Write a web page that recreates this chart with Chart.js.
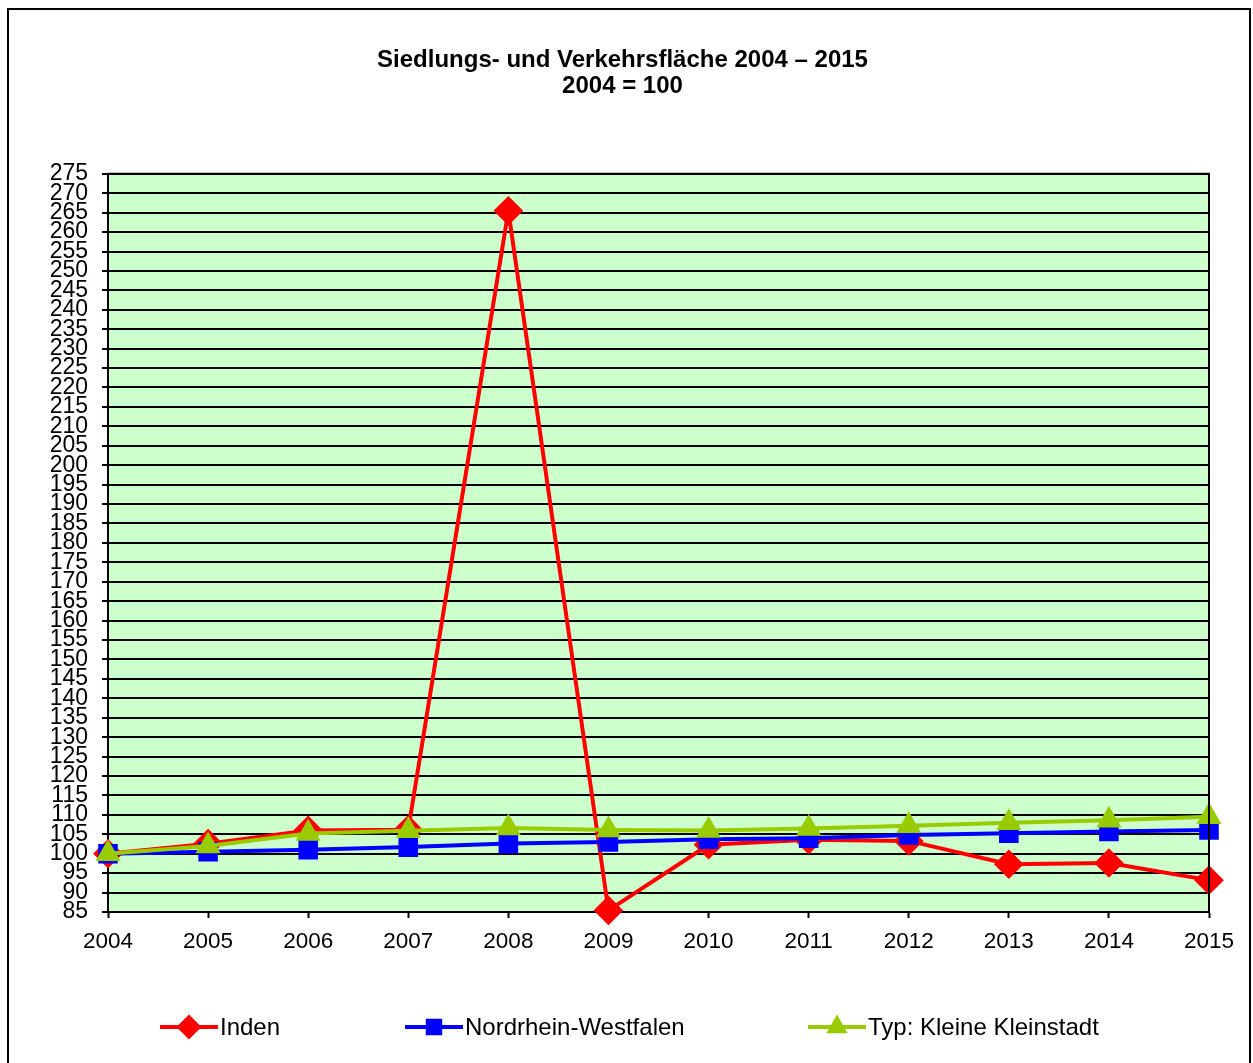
<!DOCTYPE html>
<html>
<head>
<meta charset="utf-8">
<script src="https://cdn.jsdelivr.net/npm/chart.js@4.4.1/dist/chart.umd.min.js"></script>
<style>
  html, body { margin: 0; padding: 0; background: #fff; }
  #wrap { width: 1253px; height: 1063px; }
</style>
</head>
<body>
<div id="wrap"><canvas id="flaecheChart"></canvas></div>
<script>
// Daten (2004 = 100)
const years = ['2004', '2005', '2006', '2007', '2008', '2009', '2010', '2011', '2012', '2013', '2014', '2015'];
const inden = [100, 102.6, 106.0, 106.2, 265.5, 85.4, 102.3, 103.6, 103.3, 97.3, 97.6, 93.2];
const nrw = [100, 100.5, 101.0, 101.7, 102.6, 103.0, 103.7, 104.0, 104.8, 105.3, 105.7, 106.1];
const kleineKleinstadt = [100, 102.0, 105.2, 105.9, 106.6, 106.1, 106.0, 106.5, 107.2, 108.0, 108.6, 109.5];
const seriesNames = ['Inden', 'Nordrhein-Westfalen', 'Typ: Kleine Kleinstadt'];
const titleLines = ['Siedlungs- und Verkehrsfläche 2004 – 2015', '2004 = 100'];

const fontFamily = "'Liberation Sans', Arial, sans-serif";

// Hintergrund, Rahmen und Legende
const framePlugin = {
    id: 'frame',
    beforeDraw(chart) {
        const { ctx, chartArea } = chart;
        ctx.save();
        ctx.fillStyle = '#ffffff';
        ctx.fillRect(0, 0, chart.width, chart.height);
        ctx.strokeStyle = '#000';
        ctx.lineWidth = 2;
        ctx.strokeRect(8, 9, 1242, 1080);
        ctx.fillStyle = '#CCFFCC';
        ctx.fillRect(chartArea.left, chartArea.top, chartArea.right - chartArea.left, chartArea.bottom - chartArea.top);
        ctx.restore();
    },
    afterDatasetsDraw(chart) {
        const { ctx, chartArea } = chart;
        ctx.save();
        ctx.strokeStyle = '#000';
        ctx.lineWidth = 2;
        ctx.beginPath();
        ctx.moveTo(chartArea.left, chartArea.top);
        ctx.lineTo(chartArea.right, chartArea.top);
        ctx.lineTo(chartArea.right, chartArea.bottom);
        ctx.stroke();
        ctx.restore();
    },
    afterDraw(chart) {
        const { ctx } = chart;
        const startX = [160, 405, 808];
        const y = 1027;
        ctx.save();
        chart.data.datasets.forEach((ds, i) => {
            const x0 = startX[i];
            ctx.strokeStyle = ds.borderColor;
            ctx.lineWidth = ds.borderWidth;
            ctx.beginPath();
            ctx.moveTo(x0, y);
            ctx.lineTo(x0 + 58, y);
            ctx.stroke();
            ctx.fillStyle = ds.pointBackgroundColor;
            ctx.strokeStyle = ds.pointBorderColor;
            Chart.helpers.drawPoint(ctx, {
                pointStyle: ds.pointStyle,
                radius: ds.pointRadius * 0.8,
                borderWidth: 1
            }, x0 + 29, y);
            ctx.fillStyle = '#000';
            ctx.font = '24px ' + fontFamily;
            ctx.textBaseline = 'middle';
            ctx.textAlign = 'left';
            ctx.fillText(ds.label, x0 + 60, y + 1);
        });
        ctx.restore();
    }
};

const ctx = document.getElementById('flaecheChart').getContext('2d');
new Chart(ctx, {
    type: 'line',
    data: {
        labels: years,
        datasets: [{
            label: seriesNames[0],
            data: inden,
            borderColor: '#FF0000',
            backgroundColor: '#FF0000',
            pointBackgroundColor: '#FF0000',
            pointBorderColor: '#FF0000',
            borderWidth: 4,
            pointStyle: 'rectRot',
            pointRadius: 12,
            order: 3
        }, {
            label: seriesNames[1],
            data: nrw,
            borderColor: '#0000FF',
            backgroundColor: '#0000FF',
            pointBackgroundColor: '#0000FF',
            pointBorderColor: '#0000FF',
            borderWidth: 4,
            pointStyle: 'rect',
            pointRadius: 11,
            order: 2
        }, {
            label: seriesNames[2],
            data: kleineKleinstadt,
            borderColor: '#99CC00',
            backgroundColor: '#99CC00',
            pointBackgroundColor: '#99CC00',
            pointBorderColor: '#99CC00',
            borderWidth: 4,
            pointStyle: 'triangle',
            pointRadius: 10.5,
            order: 1
        }]
    },
    options: {
        responsive: true,
        maintainAspectRatio: false,
        animation: false,
        clip: false,
        elements: {
            line: { tension: 0 },
            point: { borderWidth: 1, hoverRadius: 10 }
        },
        layout: {
            padding: { left: 36, right: 44, top: 0, bottom: 98 }
        },
        scales: {
            x: {
                offset: false,
                grid: {
                    display: true,
                    drawOnChartArea: false,
                    drawTicks: true,
                    tickLength: 6,
                    tickColor: '#000',
                    tickWidth: 2
                },
                border: { display: true, color: '#000', width: 2 },
                ticks: {
                    color: '#000',
                    padding: 10,
                    maxRotation: 0,
                    autoSkip: false,
                    font: { family: fontFamily, size: 22.5 }
                }
            },
            y: {
                min: 85,
                max: 275,
                afterFit(scale) { scale.width = 72; },
                grid: {
                    color: '#000',
                    lineWidth: 2,
                    drawTicks: true,
                    tickLength: 6,
                    tickColor: '#000',
                    tickWidth: 2
                },
                border: { display: true, color: '#000', width: 2 },
                ticks: {
                    stepSize: 5,
                    autoSkip: false,
                    color: '#000',
                    padding: 14,
                    font: { family: fontFamily, size: 23, lineHeight: 1 }
                }
            }
        },
        plugins: {
            legend: { display: false },
            tooltip: { enabled: false },
            title: {
                display: true,
                text: titleLines,
                color: '#000',
                font: { family: fontFamily, size: 24, weight: 'bold', lineHeight: 1.1 },
                padding: { top: 47, bottom: 74 }
            }
        }
    },
    plugins: [framePlugin]
});
</script>
</body>
</html>
